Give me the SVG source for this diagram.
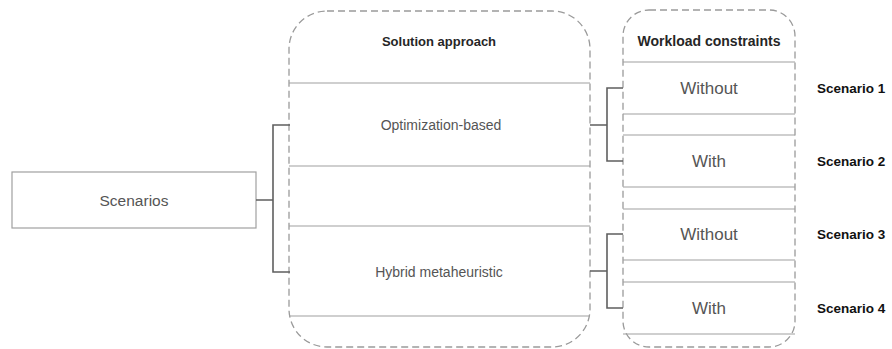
<svg xmlns="http://www.w3.org/2000/svg" width="892" height="349" viewBox="0 0 892 349">
  <style>
    .box { fill: #ffffff; stroke: #a0a0a0; stroke-width: 1.2; }
    .rule { stroke: #a0a0a0; stroke-width: 1.2; fill: none; }
    .group { fill: none; stroke: #9a9a9a; stroke-width: 1.3; stroke-dasharray: 7 4; }
    .link { fill: none; stroke: #5f5f5f; stroke-width: 1.6; }
    .label { font-family: "Liberation Sans", Arial, sans-serif; fill: #555555; text-anchor: middle; dominant-baseline: central; }
    .head { font-family: "Liberation Sans", Arial, sans-serif; font-weight: bold; fill: #262626; text-anchor: middle; dominant-baseline: central; }
    .tag { font-family: "Liberation Sans", Arial, sans-serif; font-weight: bold; fill: #111111; font-size: 13.5px; dominant-baseline: central; }
  </style>

  <rect width="892" height="349" fill="#ffffff"/>

  <!-- root node -->
  <g id="scenarios">
    <rect class="box" x="12" y="172" width="244" height="56"/>
    <text class="label" x="134" y="200" font-size="15.5">Scenarios</text>
  </g>

  <!-- solution approach column -->
  <g id="solution-approach">
    <rect class="group" x="289" y="11" width="301" height="336" rx="38" ry="38"/>
    <text class="head" x="439" y="41" font-size="13">Solution approach</text>
  </g>
  <g id="optimization-based">
    <line class="rule" x1="289" y1="83" x2="590" y2="83"/>
    <line class="rule" x1="289" y1="166" x2="590" y2="166"/>
    <text class="label" x="441" y="125" font-size="14">Optimization-based</text>
  </g>
  <g id="hybrid-metaheuristic">
    <line class="rule" x1="289" y1="226" x2="590" y2="226"/>
    <line class="rule" x1="289" y1="316" x2="590" y2="316"/>
    <text class="label" x="439" y="272" font-size="14">Hybrid metaheuristic</text>
  </g>

  <!-- workload constraints column -->
  <g id="workload-constraints">
    <rect class="group" x="623" y="10" width="172" height="337" rx="26" ry="26"/>
    <text class="head" x="709" y="41" font-size="14">Workload constraints</text>
  </g>
  <g id="without-1">
    <line class="rule" x1="623" y1="62" x2="795" y2="62"/>
    <line class="rule" x1="623" y1="114" x2="795" y2="114"/>
    <text class="label" x="709" y="88" font-size="17">Without</text>
  </g>
  <g id="with-2">
    <line class="rule" x1="623" y1="135" x2="795" y2="135"/>
    <line class="rule" x1="623" y1="187" x2="795" y2="187"/>
    <text class="label" x="709" y="161" font-size="17">With</text>
  </g>
  <g id="without-3">
    <line class="rule" x1="623" y1="209" x2="795" y2="209"/>
    <line class="rule" x1="623" y1="260" x2="795" y2="260"/>
    <text class="label" x="709" y="234" font-size="17">Without</text>
  </g>
  <g id="with-4">
    <line class="rule" x1="623" y1="282" x2="795" y2="282"/>
    <line class="rule" x1="623" y1="334" x2="795" y2="334"/>
    <text class="label" x="709" y="308" font-size="17">With</text>
  </g>

  <!-- scenario tags -->
  <g id="scenario-1"><text class="tag" x="817" y="88">Scenario 1</text></g>
  <g id="scenario-2"><text class="tag" x="817" y="161">Scenario 2</text></g>
  <g id="scenario-3"><text class="tag" x="817" y="234">Scenario 3</text></g>
  <g id="scenario-4"><text class="tag" x="817" y="308">Scenario 4</text></g>

  <!-- bracket connectors -->
  <g id="connectors">
    <path class="link" d="M256 200 H273 M290 125 H273 V272 H290"/>
    <path class="link" d="M590 125 H607 M623 88 H607 V161 H623"/>
    <path class="link" d="M590 271 H607 M623 234 H607 V308 H623"/>
  </g>
</svg>
